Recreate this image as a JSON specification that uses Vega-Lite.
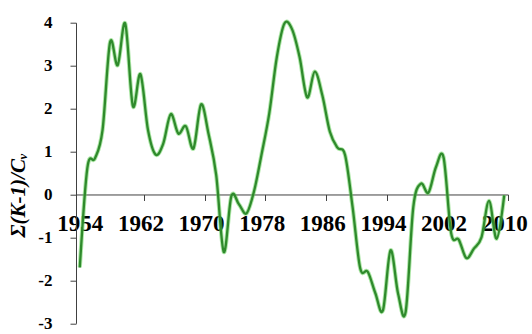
{
  "$schema": "https://vega.github.io/schema/vega-lite/v6.json",
  "autosize": {"type": "none"},
  "padding": {"left": 76, "top": 22.7, "right": 24, "bottom": 10.7},
  "width": 432,
  "height": 300.6,
  "background": "white",
  "config": {
    "view": {"stroke": null},
    "axis": {
      "grid": false,
      "domainColor": "#404040",
      "tickColor": "#404040",
      "domainWidth": 1,
      "tickWidth": 1,
      "tickSize": 6,
      "labelColor": "#000000",
      "titleColor": "#000000"
    }
  },
  "data": {
    "values": [
      {"year": 1954, "value": -1.70},
      {"year": 1955, "value": 0.62},
      {"year": 1956, "value": 0.84},
      {"year": 1957, "value": 1.50},
      {"year": 1958, "value": 3.55},
      {"year": 1959, "value": 3.01},
      {"year": 1960, "value": 3.98},
      {"year": 1961, "value": 2.06},
      {"year": 1962, "value": 2.80},
      {"year": 1963, "value": 1.50},
      {"year": 1964, "value": 0.93},
      {"year": 1965, "value": 1.18},
      {"year": 1966, "value": 1.87},
      {"year": 1967, "value": 1.42},
      {"year": 1968, "value": 1.59},
      {"year": 1969, "value": 1.07},
      {"year": 1970, "value": 2.10},
      {"year": 1971, "value": 1.40},
      {"year": 1972, "value": 0.45},
      {"year": 1973, "value": -1.34},
      {"year": 1974, "value": -0.04},
      {"year": 1975, "value": -0.23},
      {"year": 1976, "value": -0.44},
      {"year": 1977, "value": 0.08},
      {"year": 1978, "value": 0.95},
      {"year": 1979, "value": 1.89},
      {"year": 1980, "value": 3.20},
      {"year": 1981, "value": 3.98},
      {"year": 1982, "value": 3.85},
      {"year": 1983, "value": 3.20},
      {"year": 1984, "value": 2.26},
      {"year": 1985, "value": 2.86},
      {"year": 1986, "value": 2.31},
      {"year": 1987, "value": 1.46},
      {"year": 1988, "value": 1.09},
      {"year": 1989, "value": 0.92},
      {"year": 1990, "value": -0.30},
      {"year": 1991, "value": -1.72},
      {"year": 1992, "value": -1.80},
      {"year": 1993, "value": -2.30},
      {"year": 1994, "value": -2.70},
      {"year": 1995, "value": -1.30},
      {"year": 1996, "value": -2.31},
      {"year": 1997, "value": -2.73},
      {"year": 1998, "value": -0.30},
      {"year": 1999, "value": 0.25},
      {"year": 2000, "value": 0.04},
      {"year": 2001, "value": 0.64},
      {"year": 2002, "value": 0.86},
      {"year": 2003, "value": -0.90},
      {"year": 2004, "value": -1.05},
      {"year": 2005, "value": -1.48},
      {"year": 2006, "value": -1.26},
      {"year": 2007, "value": -1.00},
      {"year": 2008, "value": -0.15},
      {"year": 2009, "value": -1.03},
      {"year": 2010, "value": -0.02}
    ]
  },
  "encoding": {
    "x": {
      "field": "year",
      "type": "ordinal",
      "bandPosition": 0.5,
      "scale": {"type": "band", "paddingInner": 0, "paddingOuter": 0},
      "axis": {
        "title": null,
        "values": [1954, 1962, 1970, 1978, 1986, 1994, 2002, 2010],
        "tickBand": "extent",
        "labelAngle": 0,
        "labelFont": "Liberation Serif",
        "labelFontWeight": "bold",
        "labelFontSize": 23,
        "labelPadding": 12,
        "offset": -128.83,
        "zindex": 0
      }
    },
    "y": {
      "field": "value",
      "type": "quantitative",
      "scale": {"domain": [-3, 4], "nice": false, "zero": false},
      "axis": {
        "values": [-3, -2, -1, 0, 1, 2, 3, 4],
        "labelExpr": "replace(datum.label, '−', '-')",
        "labelFont": "Liberation Serif",
        "labelFontWeight": "bold",
        "labelFontSize": 17,
        "labelPadding": 18,
        "title": "Σ(K-1)/Cᵥ",
        "titleFont": "Liberation Serif",
        "titleFontSize": 21,
        "titleFontWeight": "bold",
        "titleFontStyle": "italic",
        "titleAngle": -90,
        "titleAlign": "center",
        "titleBaseline": "alphabetic",
        "titleX": -52,
        "titleY": 172.3,
        "zindex": 0
      }
    }
  },
  "layer": [
    {
      "mark": {"type": "line", "interpolate": "cardinal", "color": "#5ccf4f", "strokeWidth": 4.2, "opacity": 0.5}
    },
    {
      "mark": {"type": "line", "interpolate": "cardinal", "color": "#2f8a2c", "strokeWidth": 2.3}
    }
  ]
}
